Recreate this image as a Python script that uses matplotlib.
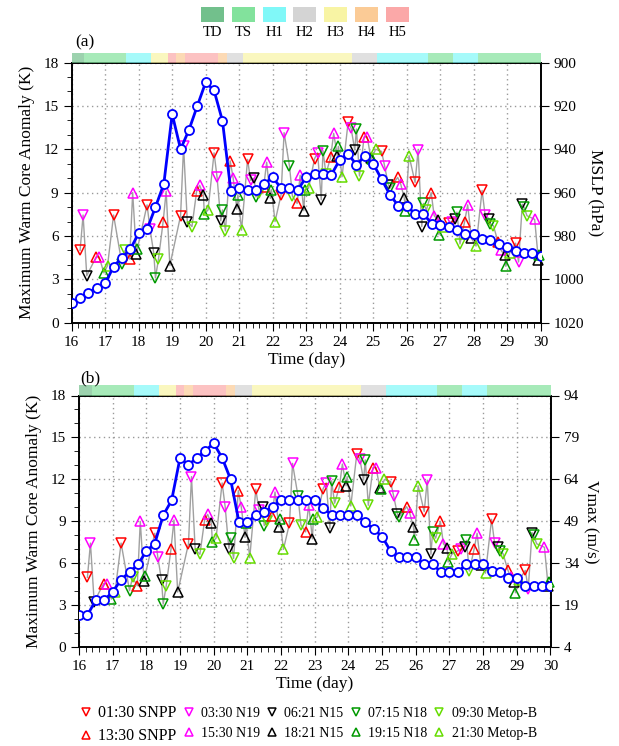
import numpy as np
import matplotlib.pyplot as plt
from matplotlib.lines import Line2D
from matplotlib.patches import Rectangle
from matplotlib.ticker import MultipleLocator

plt.rcParams['font.family'] = ['Liberation Serif', 'DejaVu Serif']

# days of the overpasses (day of month)
days = list(range(16, 30))

# warm core anomaly (K) seen by each sensor, one value per day 16..29 (None = no data)
k_0130_snpp = [5.0, 7.45, 8.15, 7.4, 11.75, 11.3, 8.85, 11.35, 13.85, 11.85, 9.7, 6.9, 9.15, 5.5]
k_0330_n19 = [7.45, None, 6.45, 12.2, 10.05, 9.85, 13.15, 11.75, 13.45, 10.85, 11.95, 7.0, 7.45, 4.2]
k_0621_n15 = [3.25, None, 4.8, 7.0, 7.05, 10.0, None, 8.5, 11.95, 9.55, 6.65, 7.2, 7.2, 8.2]
k_0715_n18 = [None, 4.05, 3.1, None, 7.8, 8.7, 10.85, 11.9, 13.4, 9.3, 8.25, 7.65, 6.85, 8.0]
k_0930_metb = [None, 5.0, 4.4, 6.65, 6.35, 9.0, 8.75, 10.3, 10.15, None, 7.8, 5.45, 6.7, 7.4]
k_1330_snpp = [4.55, 4.4, 7.0, 9.1, 11.2, 9.4, 8.25, 11.45, 12.85, 10.05, 9.0, 7.0, 5.55, None]
k_1530_n19 = [4.55, 9.0, 9.1, 9.5, 10.0, 11.1, 10.2, 13.1, 12.85, 9.6, 7.4, 8.15, 5.0, 7.15]
k_1821_n15 = [None, 4.75, 3.95, 8.85, 7.85, 8.6, 7.75, 11.55, 11.4, 8.6, 7.1, 5.85, 4.65, 4.35]
k_1915_n18 = [3.45, 5.1, None, 7.55, 8.85, 9.2, 9.2, 12.2, 11.35, 7.7, 6.1, None, 3.9, 4.65]
k_2130_metb = [3.95, None, None, 7.8, 6.4, 7.0, 9.3, 10.1, 12.0, 11.55, 6.65, 5.3, 4.8, None]

# overpass time of each sensor over the storm, fraction of the day (UTC)
pass_frac = [0.25, 0.34, 0.45, 0.50, 0.59, 0.73, 0.82, 0.93, 0.96, 1.07]

sensor_labels = ['01:30 SNPP', '03:30 N19', '06:21 N15', '07:15 N18', '09:30 Metop-B',
                 '13:30 SNPP', '15:30 N19', '18:21 N15', '19:15 N18', '21:30 Metop-B']
sensor_colors = ['#ff0000', '#ff00ff', '#000000', '#009900', '#66dd00',
                 '#ff0000', '#ff00ff', '#000000', '#009900', '#66dd00']
sensor_markers = ['v'] * 5 + ['^'] * 5

# 6-hourly best track
track_time = np.arange(16.0, 30.01, 0.25)
mslp = [1011.0, 1008.7, 1006.1, 1003.8, 1001.9, 994.1, 990.0, 986.1,
        978.7, 976.9, 966.7, 956.0, 923.8, 940.0, 931.1, 920.0,
        909.1, 912.9, 926.9, 959.1, 958.0, 958.7, 958.7, 956.0,
        952.9, 958.0, 958.0, 958.7, 952.9, 951.4, 951.4, 951.8,
        944.9, 942.1, 947.2, 943.0, 946.7, 953.8, 961.0, 966.1,
        966.1, 969.8, 969.8, 974.4, 974.9, 975.7, 977.2, 979.1,
        979.1, 981.5, 981.8, 983.7, 984.9, 986.8, 987.7, 987.7, 989.2]
vmax = [15.5, 15.5, 20.9, 20.9, 23.8, 28.2, 30.9, 33.6,
        38.4, 41.1, 51.2, 56.5, 71.7, 69.2, 71.7, 74.3,
        76.9, 71.7, 64.1, 48.8, 48.8, 51.2, 52.3, 54.1,
        56.7, 56.7, 56.7, 56.7, 56.5, 53.9, 51.2, 51.2,
        51.2, 51.2, 48.8, 46.2, 43.6, 38.4, 36.1, 36.1,
        36.1, 33.7, 33.7, 30.9, 30.9, 30.9, 33.7, 33.7,
        33.7, 31.3, 30.9, 28.6, 28.6, 25.8, 25.8, 25.8, 25.8]

# intensity category strip
cat_start = [16.0, 16.375, 17.625, 18.375, 18.875, 19.125, 19.375, 20.375,
             20.625, 21.125, 24.375, 25.125, 26.625, 27.375, 28.125]
cat_name = ['TD', 'TS', 'H1', 'H3', 'H5', 'H4', 'H5', 'H4',
            'H2', 'H3', 'H2', 'H1', 'TS', 'H1', 'TS']
cat_end = 30.0
cat_order = ['TD', 'TS', 'H1', 'H2', 'H3', 'H4', 'H5']
cat_colors = {'TD': '#72c08c', 'TS': '#82e29c', 'H1': '#80f8f8', 'H2': '#d4d4d4',
              'H3': '#f8f4a4', 'H4': '#fbcb96', 'H5': '#fba8a8'}

k_series = [k_0130_snpp, k_0330_n19, k_0621_n15, k_0715_n18, k_0930_metb,
            k_1330_snpp, k_1530_n19, k_1821_n15, k_1915_n18, k_2130_metb]

W, H = 619, 746
fig = plt.figure(figsize=(W / 100, H / 100), dpi=100)


def fbox(x0, y0, x1, y1):
    return [x0 / W, 1 - y1 / H, (x1 - x0) / W, (y1 - y0) / H]


def draw_panel(box, right_vals, right_lim, right_ticks, right_label, tag, tag_xy):
    ax = fig.add_axes(fbox(*box))
    # all overpasses joined in time order
    pts = []
    for vals, frac in zip(k_series, pass_frac):
        for d, v in zip(days, vals):
            if v is not None:
                pts.append((d + frac, v))
    pts.sort()
    ax.plot([p[0] for p in pts], [p[1] for p in pts], color='#a0a0a0', lw=1.0, zorder=2)
    for vals, frac, c, m in zip(k_series, pass_frac, sensor_colors, sensor_markers):
        xs = [d + frac for d, v in zip(days, vals) if v is not None]
        ys = [v for v in vals if v is not None]
        ax.plot(xs, ys, ls='none', marker=m, ms=6.5, mfc='none', mec=c, mew=1.1,
                zorder=3, clip_on=False)
    ax.set_xlim(16, 30)
    ax.set_ylim(0, 18)
    ax.set_xticks(range(16, 31))
    ax.set_yticks(range(0, 19, 3))
    ax.xaxis.set_minor_locator(MultipleLocator(0.2))
    ax.yaxis.set_minor_locator(MultipleLocator(1))
    ax.grid(True, which='major', ls=(0, (1, 2.5)), color='#999999', lw=1.0)
    ax.tick_params(which='both', direction='out', labelsize=11, top=False)
    ax.tick_params(which='major', length=6)
    ax.tick_params(which='minor', length=3.5)
    ax.set_xlabel('Time (day)', fontsize=12.5, labelpad=2)
    ax.set_ylabel('Maximum Warm Core Anomaly (K)', fontsize=12.5, labelpad=6)
    for s in ax.spines.values():
        s.set_linewidth(1.2)

    ax2 = ax.twinx()
    ax2.plot(track_time, right_vals, color='#0000ff', lw=2.0, marker='o', ms=6.5,
             mfc='white', mec='#0000ff', mew=1.3, zorder=4)
    ax2.set_ylim(*right_lim)
    ax2.set_yticks(right_ticks)
    ax2.tick_params(direction='out', length=6, labelsize=11)
    ax2.set_ylabel(right_label, fontsize=12.5, rotation=-90, labelpad=14)
    for s in ax2.spines.values():
        s.set_linewidth(1.2)

    # intensity strip just above the frame
    x0, y0, x1, y1 = box
    sax = fig.add_axes(fbox(x0, y0 - 10, x1, y0))
    ends = cat_start[1:] + [cat_end]
    for a, b, n in zip(cat_start, ends, cat_name):
        sax.axvspan(a, b, color=cat_colors[n], alpha=0.7, lw=0)
    sax.set_xlim(16, 30)
    sax.set_ylim(0, 1)
    sax.axis('off')

    fig.text(tag_xy[0] / W, 1 - tag_xy[1] / H, tag, fontsize=12.5, va='center')
    return ax


draw_panel((71.7, 62.5, 540.7, 322.7), mslp, (1020, 900), range(900, 1021, 20),
           'MSLP (hPa)', '(a)', (75, 42))
draw_panel((79, 395.5, 550.5, 647.3), vmax, (4, 94), range(4, 95, 15),
           'Vmax (m/s)', '(b)', (80, 378))

# category legend at the top
lax = fig.add_axes([0, 0, 1, 1])
lax.set_xlim(0, W)
lax.set_ylim(H, 0)
lax.axis('off')
for i, n in enumerate(cat_order):
    x = 201 + i * 30.8
    lax.add_patch(Rectangle((x, 7), 23, 15, color=cat_colors[n], lw=0))
    lax.text(x + 11.5, 33, n, ha='center', va='center', fontsize=10.5)

# sensor legend at the bottom (column-major order)
order = [0, 5, 1, 6, 2, 7, 3, 8, 4, 9]
handles = [Line2D([], [], ls='none', marker=sensor_markers[i], ms=6, mfc='none',
                  mec=sensor_colors[i], mew=1.1) for i in order]
labels = [sensor_labels[i] for i in order]
leg = fig.legend(handles, labels, ncol=5, loc='upper left',
                 bbox_to_anchor=(72 / W, 1 - 697 / H), frameon=False, fontsize=10,
                 handlelength=0.8, handletextpad=0.5, columnspacing=0.45,
                 labelspacing=0.45, borderaxespad=0.2)
for t in leg.get_texts():
    if 'SNPP' in t.get_text():
        t.set_fontsize(11.5)

fig.savefig('out.png', dpi=100)
